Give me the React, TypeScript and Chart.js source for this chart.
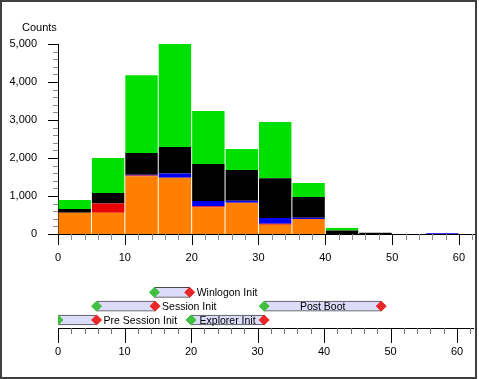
import React, { useEffect, useRef } from 'react';
import { Chart, registerables } from 'chart.js';

Chart.register(...registerables);

// ---------- Histogram data ----------
const binStarts = [0, 5, 10, 15, 20, 25, 30, 35, 40, 45, 50, 55];
const binWidth = 5;
const orangeCounts = [560, 560, 1520, 1480, 700, 820, 245, 395, 0, 0, 0, 0];
const redCounts = [0, 240, 20, 0, 30, 0, 25, 0, 0, 0, 0, 0];
const blueCounts = [0, 0, 20, 110, 140, 55, 150, 35, 0, 0, 0, 20];
const blackCounts = [100, 280, 570, 700, 970, 810, 1050, 545, 90, 30, 0, 0];
const greenCounts = [235, 920, 2050, 2710, 1400, 555, 1480, 365, 70, 0, 0, 0];

const seriesList = [
  { name: 'Orange', values: orangeCounts, color: '#ff8000' },
  { name: 'Red', values: redCounts, color: '#e60000' },
  { name: 'Blue', values: blueCounts, color: '#0000f0' },
  { name: 'Black', values: blackCounts, color: '#000000' },
  { name: 'Green', values: greenCounts, color: '#00e000' },
];

// ---------- Axis ticks ----------
const xMajorTicks = [0, 10, 20, 30, 40, 50, 60];
const xMinorStep = 2;
const xMax = 62.4;
const yMajorTicks = [0, 1000, 2000, 3000, 4000, 5000];
const yMinorStep = 200;
const yMax = 5000;
const yTitle = 'Counts';

// ---------- Timeline phases ----------
const phaseNames = ['Pre Session Init', 'Session Init', 'Winlogon Init', 'Explorer Init', 'Post Boot'];
const phaseStart = [0, 5.8, 14.5, 20, 31];
const phaseEnd = [5.8, 14.6, 19.8, 31, 48.6];
const phaseRow = [3, 2, 1, 3, 2];

const FONT = '"Liberation Sans", Arial, sans-serif';

const topTicksPlugin = {
  id: 'topTicks',
  afterDraw(chart: any) {
    const { ctx, chartArea, scales } = chart;
    const xs = scales.x;
    const ys = scales.y;
    ctx.save();
    ctx.lineWidth = 1;
    for (let v = 0; v <= xMax + 1e-9; v += xMinorStep) {
      const major = xMajorTicks.includes(v);
      const px = Math.round(xs.getPixelForValue(v)) + 0.5;
      ctx.strokeStyle = major ? '#000' : '#8a8a8a';
      ctx.beginPath();
      ctx.moveTo(px, chartArea.bottom);
      ctx.lineTo(px, chartArea.bottom + (major ? 11 : 6));
      ctx.stroke();
    }
    for (let v = 0; v <= yMax + 1e-9; v += yMinorStep) {
      const major = yMajorTicks.includes(v);
      const py = Math.round(ys.getPixelForValue(v)) + 0.5;
      ctx.strokeStyle = major ? '#000' : '#8a8a8a';
      ctx.beginPath();
      ctx.moveTo(chartArea.left, py);
      ctx.lineTo(chartArea.left - (major ? 10 : 5), py);
      ctx.stroke();
    }
    ctx.font = `11px ${FONT}`;
    ctx.fillStyle = '#000';
    ctx.textAlign = 'left';
    ctx.textBaseline = 'alphabetic';
    ctx.fillText(yTitle, 22, 31);
    ctx.restore();
  },
};

const bottomTicksPlugin = {
  id: 'bottomTicks',
  afterDraw(chart: any) {
    const { ctx, chartArea, scales } = chart;
    const xs = scales.x;
    ctx.save();
    ctx.lineWidth = 1;
    for (let v = 0; v <= xMax + 1e-9; v += xMinorStep) {
      const major = xMajorTicks.includes(v);
      const px = Math.round(xs.getPixelForValue(v)) + 0.5;
      ctx.strokeStyle = major ? '#000' : '#707070';
      ctx.beginPath();
      ctx.moveTo(px, chartArea.bottom);
      ctx.lineTo(px, chartArea.bottom + (major ? 15 : 6));
      ctx.stroke();
    }
    ctx.restore();
  },
};

const phaseLabelPlugin = {
  id: 'phaseLabels',
  afterDatasetsDraw(chart: any) {
    const { ctx, scales } = chart;
    const xs = scales.x;
    const ys = scales.y;
    ctx.save();
    ctx.font = `10.5px ${FONT}`;
    ctx.fillStyle = '#000';
    ctx.textBaseline = 'middle';
    phaseNames.forEach((name, i) => {
      const x0 = xs.getPixelForValue(phaseStart[i]);
      const x1 = xs.getPixelForValue(phaseEnd[i]);
      const py = ys.getPixelForValue(phaseRow[i]) + 1;
      const w = ctx.measureText(name).width;
      if (w + 16 < x1 - x0) {
        ctx.textAlign = 'center';
        ctx.fillText(name, (x0 + x1) / 2, py);
      } else {
        ctx.textAlign = 'left';
        ctx.fillText(name, x1 + 7, py);
      }
    });
    ctx.restore();
  },
};

function fixXScale(height: number) {
  return (scale: any) => {
    scale.height = height;
    scale.paddingLeft = 0;
    scale.paddingRight = 0;
  };
}

export default function App() {
  const topRef = useRef<HTMLCanvasElement>(null);
  const botRef = useRef<HTMLCanvasElement>(null);

  useEffect(() => {
    document.body.style.margin = '0';
    const tickFont = { family: FONT, size: 11 };

    const top = new Chart(topRef.current as HTMLCanvasElement, {
      type: 'bar',
      data: {
        datasets: seriesList.map((s) => ({
          label: s.name,
          data: binStarts.map((b, i) => ({ x: b + binWidth / 2, y: s.values[i] })),
          backgroundColor: s.color,
          borderWidth: 0,
          barPercentage: 0.97,
          categoryPercentage: 1,
        })),
      },
      options: {
        responsive: false,
        animation: false,
        devicePixelRatio: 1,
        layout: { padding: { top: 44, left: 0, right: 4, bottom: 0 } },
        plugins: { legend: { display: false }, tooltip: { enabled: false }, title: { display: false } },
        scales: {
          x: {
            type: 'linear',
            stacked: true,
            offset: false,
            min: 0,
            max: xMax,
            grid: { display: false, drawTicks: false },
            border: { display: true, color: '#000', width: 1 },
            ticks: {
              stepSize: 10,
              includeBounds: false,
              autoSkip: false,
              maxRotation: 0,
              padding: 17,
              color: '#000',
              font: tickFont,
            },
            afterFit: fixXScale(36),
          },
          y: {
            type: 'linear',
            stacked: true,
            offset: false,
            min: 0,
            max: yMax,
            grid: { display: false, drawTicks: false },
            border: { display: true, color: '#000', width: 1 },
            afterBuildTicks: (scale: any) => {
              scale.ticks = yMajorTicks.map((v) => ({ value: v }));
            },
            ticks: {
              autoSkip: false,
              padding: 21,
              color: '#000',
              font: tickFont,
              callback: (v: any) => Number(v).toLocaleString('en-US'),
            },
            afterFit: (scale: any) => {
              scale.width = 58;
              scale.paddingTop = 0;
              scale.paddingBottom = 0;
            },
          },
        },
      } as any,
      plugins: [topTicksPlugin],
    });

    const bottom = new Chart(botRef.current as HTMLCanvasElement, {
      type: 'scatter',
      data: {
        datasets: [
          {
            type: 'scatter',
            label: 'start',
            data: phaseStart.map((s, i) => ({ x: s, y: phaseRow[i] })),
            pointStyle: 'rectRot',
            pointRadius: 5,
            pointBorderWidth: 1,
            backgroundColor: '#40c040',
            borderColor: '#40c040',
            order: 1,
          },
          {
            type: 'scatter',
            label: 'end',
            data: phaseEnd.map((e, i) => ({ x: e, y: phaseRow[i] })),
            pointStyle: 'rectRot',
            pointRadius: 5,
            pointBorderWidth: 1,
            backgroundColor: '#e82828',
            borderColor: '#e82828',
            order: 0,
          },
          {
            type: 'bar',
            label: 'phases',
            indexAxis: 'y',
            data: phaseStart.map((s, i) => ({ x: [s, phaseEnd[i]], y: phaseRow[i] })),
            backgroundColor: '#dcdcfa',
            borderColor: '#4a4a4a',
            borderWidth: 1,
            borderSkipped: false,
            barThickness: 10,
            order: 2,
          },
        ] as any,
      },
      options: {
        responsive: false,
        animation: false,
        devicePixelRatio: 1,
        layout: { padding: { top: 24, left: 58, right: 4, bottom: 0 } },
        plugins: { legend: { display: false }, tooltip: { enabled: false }, title: { display: false } },
        scales: {
          x: {
            type: 'linear',
            offset: false,
            min: 0,
            max: xMax,
            grid: { display: false, drawTicks: false },
            border: { display: true, color: '#000', width: 1 },
            ticks: {
              stepSize: 10,
              includeBounds: false,
              autoSkip: false,
              maxRotation: 0,
              padding: 17,
              color: '#000',
              font: tickFont,
            },
            afterFit: fixXScale(49),
          },
          y: {
            type: 'linear',
            offset: false,
            reverse: true,
            min: 0.4,
            max: 3.58,
            display: false,
          },
        },
      } as any,
      plugins: [bottomTicksPlugin, phaseLabelPlugin],
    });

    return () => {
      top.destroy();
      bottom.destroy();
    };
  }, []);

  return (
    <div style={{ position: 'relative', width: 479, height: 379, background: '#fff', overflow: 'hidden' }}>
      <canvas
        ref={topRef}
        width={479}
        height={270}
        style={{ position: 'absolute', left: 0, top: 0, width: 479, height: 270 }}
      />
      <canvas
        ref={botRef}
        width={479}
        height={117}
        style={{ position: 'absolute', left: 0, top: 260, width: 479, height: 117 }}
      />
      <div
        style={{
          position: 'absolute',
          left: 0,
          top: 0,
          width: 477,
          height: 379,
          border: '2px solid #404040',
          boxSizing: 'border-box',
          pointerEvents: 'none',
        }}
      />
    </div>
  );
}
